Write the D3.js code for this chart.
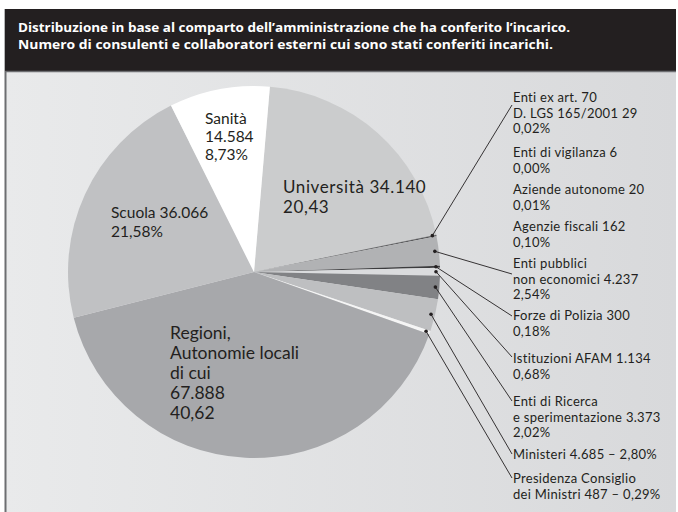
<!DOCTYPE html>
<html>
<head>
<meta charset="utf-8">
<script src="https://cdn.jsdelivr.net/npm/d3@7"></script>
<style>
  body { margin: 0; background: #fff; }
  svg { display: block; }
</style>
</head>
<body>
<div id="chart-area"></div>
<script>
// data (clockwise, starting with Università)
var sectors = ["Università", "Enti ex art. 70", "Enti di vigilanza", "Aziende autonome",
	"Agenzie fiscali", "Enti pubblici non economici", "Forze di Polizia", "Istituzioni AFAM",
	"Enti di Ricerca", "Ministeri", "Presidenza Consiglio", "Regioni", "Scuola", "Sanità"];
var counts = [34140, 29, 6, 20, 162, 4237, 300, 1134, 3373, 4685, 487, 67888, 36066, 14584];

// label texts
var innerLabels = [
	["Sanità", "14.584", "8,73%"],
	["Università 34.140", "20,43"],
	["Scuola 36.066", "21,58%"],
	["Regioni,", "Autonomie locali", "di cui", "67.888", "40,62"]
];
var sideLabels = [
	["Enti ex art. 70", "D. LGS 165/2001 29", "0,02%"],
	["Enti di vigilanza 6", "0,00%"],
	["Aziende autonome 20", "0,01%"],
	["Agenzie fiscali 162", "0,10%"],
	["Enti pubblici", "non economici 4.237", "2,54%"],
	["Forze di Polizia 300", "0,18%"],
	["Istituzioni AFAM 1.134", "0,68%"],
	["Enti di Ricerca", "e sperimentazione 3.373", "2,02%"],
	["Ministeri 4.685 – 2,80%"],
	["Presidenza Consiglio", "dei Ministri 487 – 0,29%"]
];
var sideSector = ["Enti ex art. 70", "Enti di vigilanza", "Aziende autonome", "Agenzie fiscali",
	"Enti pubblici non economici", "Forze di Polizia", "Istituzioni AFAM", "Enti di Ricerca",
	"Ministeri", "Presidenza Consiglio"];
var hasLeader = [true, false, false, false, true, true, true, true, true, true];

var title = ["Distribuzione in base al comparto dell’amministrazione che ha conferito l’incarico.",
	"Numero di consulenti e collaboratori esterni cui sono stati conferiti incarichi."];

// styles
var sliceColors = ["#cbcccd", "#5a5a5c", "#5a5a5c", "#5a5a5c", "#535355", "#b1b2b4", "#3c3c3e",
	"#dadbdd", "#818285", "#bebfc1", "#f5f5f5", "#a7a8ab", "#c0c1c3", "#ffffff"];

var W = 678, H = 512;
var cx = 254, cy = 272, R = 186;

var svg = d3.select("#chart-area").append("svg")
	.attr("width", W).attr("height", H);

var defs = svg.append("defs");
var grad = defs.append("linearGradient").attr("id", "bg")
	.attr("x1", "0%").attr("x2", "100%").attr("y1", "0%").attr("y2", "0%");
grad.append("stop").attr("offset", "0%").attr("stop-color", "#e9eaeb");
grad.append("stop").attr("offset", "100%").attr("stop-color", "#d8d9db");

// panel + title bar
svg.append("rect").attr("x", 5).attr("y", 71).attr("width", 671).attr("height", 460)
	.attr("fill", "url(#bg)");
svg.append("line").attr("x1", 5.5).attr("x2", 5.5).attr("y1", 9).attr("y2", H)
	.attr("stroke", "#6d6e71").attr("stroke-width", 2);
svg.append("rect").attr("x", 5).attr("y", 9).attr("width", 671).attr("height", 62)
	.attr("fill", "#231f20");
svg.append("line").attr("x1", 5).attr("x2", 676).attr("y1", 71.5).attr("y2", 71.5)
	.attr("stroke", "#6d6e71").attr("stroke-width", 1.5);

var titleWidths = [552, 535];
title.forEach(function(t, i){
	svg.append("text")
		.attr("x", 18).attr("y", 32 + i*17)
		.attr("font-family", "'Open Sans', sans-serif")
		.attr("font-weight", "bold")
		.attr("font-size", "13px")
		.attr("fill", "#fff")
		.attr("textLength", titleWidths[i])
		.attr("lengthAdjust", "spacingAndGlyphs")
		.text(t);
});

//pie
var pie = d3.pie().sort(null).value(function(d){ return d; })
	.startAngle(4.9*Math.PI/180).endAngle(4.9*Math.PI/180 + 2*Math.PI);
var arcs = pie(counts);
var arc = d3.arc().innerRadius(0).outerRadius(R);

var g = svg.append("g").attr("transform", "translate(" + cx + "," + cy + ")");
g.selectAll("path").data(arcs).enter().append("path")
	.attr("d", arc)
	.attr("fill", function(d, i){ return sliceColors[i]; });

// inner labels (left x, first baseline, font size, line height, letter spacing)
var innerPos = [[205, 124, 15.5, 18, 0], [283, 193, 17, 19.5, 0.6], [111, 218, 15.5, 19, 0], [170, 339, 17.5, 20, 0]];
innerLabels.forEach(function(lines, i){
	var p = innerPos[i];
	var t = svg.append("text")
		.attr("font-family", "Lato, sans-serif")
		.attr("font-size", p[2] + "px")
		.attr("letter-spacing", p[4] + "px")
		.attr("fill", "#231f20");
	lines.forEach(function(l, j){
		t.append("tspan").attr("x", p[0]).attr("y", p[1] + j*p[3]).text(l);
	});
});

// side labels
var labelX = 513, lh = 15.5;
var labelY = [102, 157, 194, 231, 268, 320, 363, 406, 459, 483];
var leaderDy = [3, 0, 0, 0, 6, -4, -6, -5, -5, -5];
var dotArc = d3.arc().innerRadius(R - 4).outerRadius(R - 4);

sideLabels.forEach(function(lines, i){
	var t = svg.append("text")
		.attr("font-family", "Lato, sans-serif")
		.attr("font-size", "13px")
		.attr("letter-spacing", "0.3px")
		.attr("fill", "#231f20");
	lines.forEach(function(l, j){
		t.append("tspan").attr("x", labelX).attr("y", labelY[i] + j*lh).text(l);
	});

	if (hasLeader[i]) {
		var a = arcs[sectors.indexOf(sideSector[i])];
		var c = dotArc.centroid(a);
		var px = cx + c[0], py = cy + c[1];
		svg.append("line")
			.attr("x1", px).attr("y1", py)
			.attr("x2", labelX - 1).attr("y2", labelY[i] + leaderDy[i])
			.attr("stroke", "#231f20").attr("stroke-width", 0.9);
		svg.append("circle").attr("cx", px).attr("cy", py).attr("r", 1.8)
			.attr("fill", "#231f20");
	}
});
</script>
</body>
</html>
